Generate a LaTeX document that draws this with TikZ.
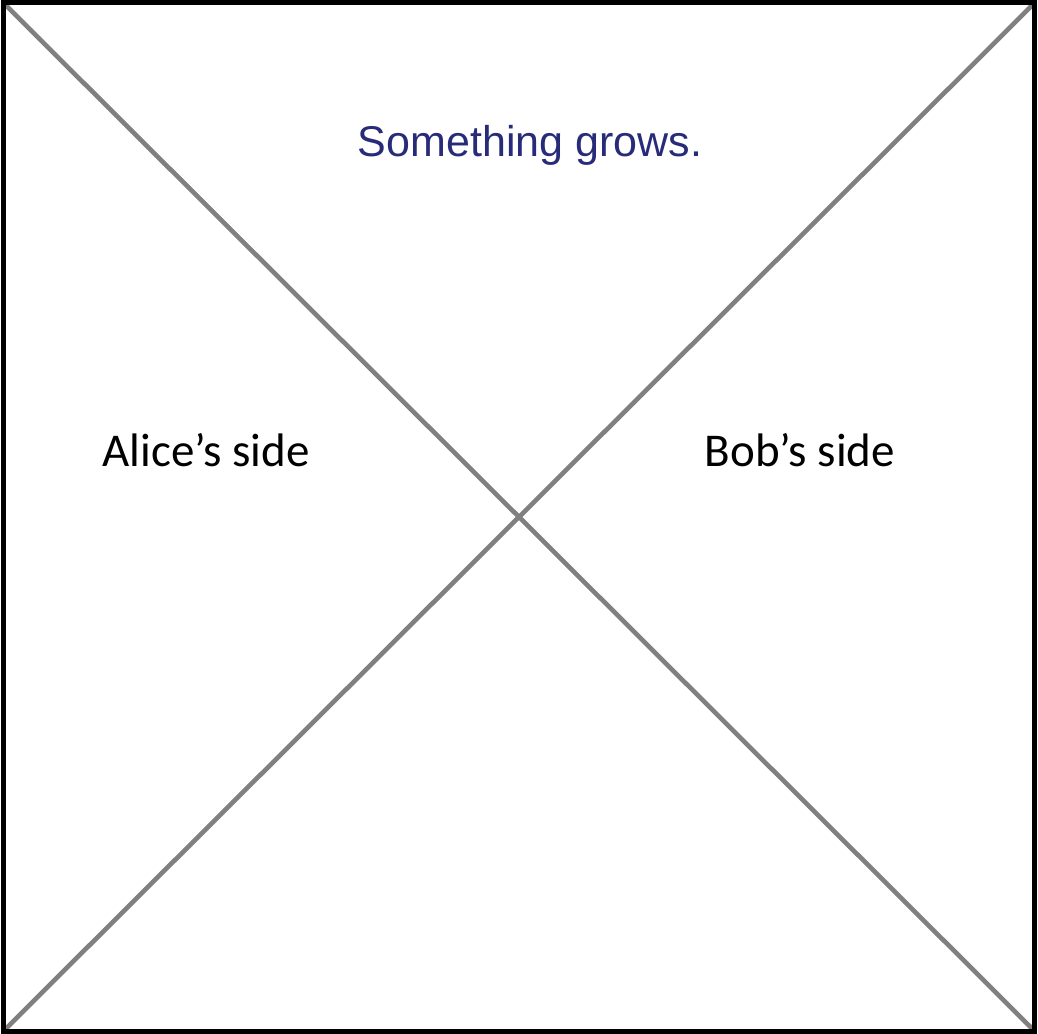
\documentclass[tikz,border=0pt]{standalone}
\usepackage{fontspec}
\newfontfamily\arialfont{Liberation Sans}
\newfontfamily\calibrifont{Carlito}
\definecolor{grownavy}{RGB}{40,44,120}
\tikzset{
  frame/.style={draw=black, line width=5pt},
  cross/.style={draw=gray, line width=4.6pt},
  sidelabel/.style={font=\calibrifont\fontsize{47}{56}\selectfont, anchor=base},
}
\begin{document}
\begin{tikzpicture}[x=1pt, y=1pt]
    \useasboundingbox (0,0) rectangle (1038,1033);
    \fill[white] (0,0) rectangle (1038,1033);
    % corners of the square
    \coordinate (sw) at (3.5,2);
    \coordinate (ne) at (1034.5,1030);
    \coordinate (nw) at (3.5,1030);
    \coordinate (se) at (1034.5,2);
    \draw[cross] (nw) -- (se);
    \draw[cross] (sw) -- (ne);
    \draw[frame] (sw) rectangle (ne);
    \node[font=\arialfont\fontsize{43}{52}\selectfont, text=grownavy, anchor=base]
        (grows) at (530,876) {Something grows.};
    \node[sidelabel] (alice) at (206,566) {Alice’s side};
    \node[sidelabel] (bob) at (800,566) {Bob’s side};
\end{tikzpicture}
\end{document}
